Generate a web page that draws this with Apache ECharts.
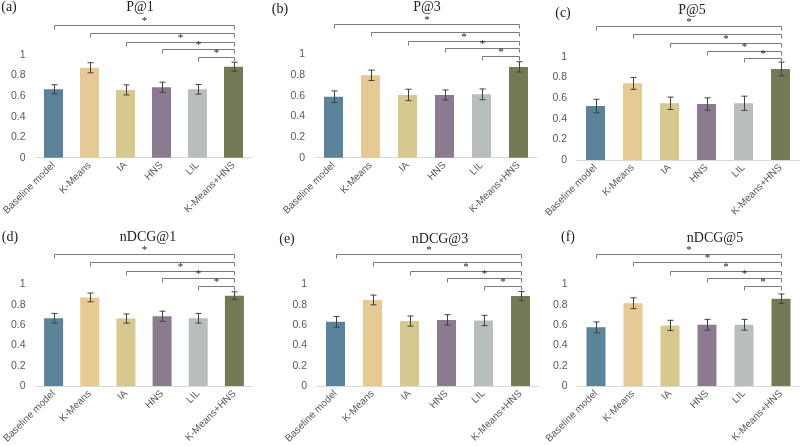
<!DOCTYPE html>
<html>
<head>
<meta charset="utf-8">
<script src="https://cdn.jsdelivr.net/npm/echarts/dist/echarts.min.js"></script>
<style>
  html, body { margin: 0; padding: 0; background: #fff; }
  #main { width: 800px; height: 446px; }
</style>
</head>
<body>
<div id="main"></div>
<script>
// methods on the x axis
var methods = ['Baseline model', 'K-Means', 'IA', 'HNS', 'LIL', 'K-Means+HNS'];

// mean values
var p1Mean = [0.666, 0.876, 0.660, 0.686, 0.666, 0.886];
var p3Mean = [0.590, 0.797, 0.607, 0.607, 0.613, 0.878];
var p5Mean = [0.523, 0.742, 0.549, 0.542, 0.549, 0.881];
var n1Mean = [0.666, 0.871, 0.663, 0.686, 0.666, 0.888];
var n3Mean = [0.631, 0.846, 0.638, 0.650, 0.644, 0.885];
var n5Mean = [0.577, 0.814, 0.596, 0.602, 0.602, 0.859];

// error bar half widths
var p1Err = [0.044, 0.049, 0.049, 0.049, 0.047, 0.044];
var p3Err = [0.056, 0.050, 0.055, 0.048, 0.052, 0.050];
var p5Err = [0.065, 0.058, 0.060, 0.060, 0.069, 0.066];
var n1Err = [0.048, 0.043, 0.045, 0.050, 0.048, 0.038];
var n3Err = [0.053, 0.048, 0.050, 0.051, 0.051, 0.045];
var n5Err = [0.053, 0.053, 0.050, 0.053, 0.053, 0.046];

// significance brackets: each compares methods[i] with K-Means+HNS, 1 = star drawn
var starsMost = [1, 0, 1, 1, 1];
var starsAll = [1, 1, 1, 1, 1];

var barColors = ['#5b8399', '#e6c993', '#d7c88f', '#8b7a90', '#b8bebd', '#757a56'];

var panels = [
  {tag: '(a)', name: 'P@1', mean: p1Mean, err: p1Err, stars: starsMost,
   left: 29.5, top: 55, height: 102.7, titleX: 140, titleY: 8, tagX: 9, tagY: 8},
  {tag: '(b)', name: 'P@3', mean: p3Mean, err: p3Err, stars: starsMost,
   left: 315, top: 54.3, height: 103.4, titleX: 427, titleY: 8, tagX: 280, tagY: 10},
  {tag: '(c)', name: 'P@5', mean: p5Mean, err: p5Err, stars: starsMost,
   left: 577, top: 56.7, height: 103.3, titleX: 692, titleY: 11, tagX: 563, tagY: 14},
  {tag: '(d)', name: 'nDCG@1', mean: n1Mean, err: n1Err, stars: starsMost,
   left: 30.5, top: 284.3, height: 104, titleX: 148, titleY: 238, tagX: 10, tagY: 238},
  {tag: '(e)', name: 'nDCG@3', mean: n3Mean, err: n3Err, stars: starsMost,
   left: 317, top: 284.3, height: 104, titleX: 440, titleY: 240, tagX: 287, tagY: 240},
  {tag: '(f)', name: 'nDCG@5', mean: n5Mean, err: n5Err, stars: starsAll,
   left: 577.5, top: 284.3, height: 104, titleX: 715, titleY: 239, tagX: 568, tagY: 238}
];

// bracket heights in px relative to the "1" tick
var bracketOffsets = [-30.5, -22.5, -13.5, -6.2, 1.6];

function renderErr(params, api) {
  var lo = api.coord([api.value(0), api.value(1)]);
  var hi = api.coord([api.value(0), api.value(2)]);
  var x = Math.round(lo[0]) + 0.5;
  var st = {stroke: '#404040', lineWidth: 1};
  return {
    type: 'group',
    children: [
      {type: 'line', shape: {x1: x, y1: lo[1], x2: x, y2: hi[1]}, style: st},
      {type: 'line', shape: {x1: x - 3, y1: lo[1], x2: x + 3, y2: lo[1]}, style: st},
      {type: 'line', shape: {x1: x - 3, y1: hi[1], x2: x + 3, y2: hi[1]}, style: st}
    ]
  };
}

function renderBracket(params, api) {
  var a = api.coord([api.value(0), 1]);
  var b = api.coord([methods.length - 1, 1]);
  var y = Math.round(a[1] + bracketOffsets[params.dataIndex]) + 0.5;
  var x1 = Math.round(a[0]) + 0.5;
  var x2 = Math.round(b[0]) + 0.5;
  var kids = [{
    type: 'polyline',
    shape: {points: [[x1, y + 4], [x1, y], [x2, y], [x2, y + 4]]},
    style: {stroke: '#7a7a7a', lineWidth: 1, fill: null}
  }];
  if (api.value(2) == 1) {
    kids.push({
      type: 'text',
      style: {
        text: '*', x: (x1 + x2) / 2, y: y - 4,
        align: 'center', verticalAlign: 'middle',
        font: '11px "Liberation Serif"', fill: '#222'
      }
    });
  }
  return {type: 'group', children: kids};
}

var grids = [], xAxes = [], yAxes = [], series = [], titles = [];
var titleFont = {fontFamily: 'Liberation Serif', fontSize: 14, fontWeight: 'normal', color: '#222'};

for (var i = 0; i < panels.length; i++) {
  var p = panels[i];
  grids.push({left: p.left, top: p.top, width: 222, height: p.height});
  xAxes.push({
    type: 'category', gridIndex: i, data: methods,
    axisLine: {lineStyle: {color: '#d9d9d9'}},
    axisTick: {show: false},
    axisLabel: {rotate: 45, interval: 0, fontSize: 10, color: '#595959',
                fontFamily: 'Liberation Sans', margin: 6}
  });
  yAxes.push({
    type: 'value', gridIndex: i, min: 0, max: 1, interval: 0.2,
    axisLine: {show: false}, axisTick: {show: false}, splitLine: {show: false},
    axisLabel: {fontSize: 10.5, color: '#595959', fontFamily: 'Liberation Sans', margin: 10}
  });

  var bars = [], errs = [], brackets = [];
  for (var j = 0; j < methods.length; j++) {
    bars.push({value: p.mean[j], itemStyle: {color: barColors[j]}});
    errs.push([j, p.mean[j] - p.err[j], p.mean[j] + p.err[j]]);
  }
  for (var k = 0; k < p.stars.length; k++) {
    brackets.push([k, 1, p.stars[k]]);
  }

  series.push({type: 'bar', xAxisIndex: i, yAxisIndex: i, data: bars, barWidth: 19, silent: true});
  series.push({type: 'custom', xAxisIndex: i, yAxisIndex: i, data: errs,
               renderItem: renderErr, encode: {x: 0, y: [1, 2]}, silent: true, z: 3});
  series.push({type: 'custom', xAxisIndex: i, yAxisIndex: i, data: brackets,
               renderItem: renderBracket, encode: {x: 0, y: 1}, silent: true, clip: false, z: 3});

  // title components are placed by their top edge, so shift up by half the line
  titles.push({text: p.name, left: p.titleX, top: p.titleY - 8, textAlign: 'center',
               padding: 0, textStyle: titleFont});
  titles.push({text: p.tag, left: p.tagX, top: p.tagY - 8, textAlign: 'center',
               padding: 0, textStyle: titleFont});
}

var myChart = echarts.init(document.getElementById('main'));
myChart.setOption({
  animation: false,
  backgroundColor: '#fff',
  title: titles,
  grid: grids,
  xAxis: xAxes,
  yAxis: yAxes,
  series: series
});
</script>
</body>
</html>
